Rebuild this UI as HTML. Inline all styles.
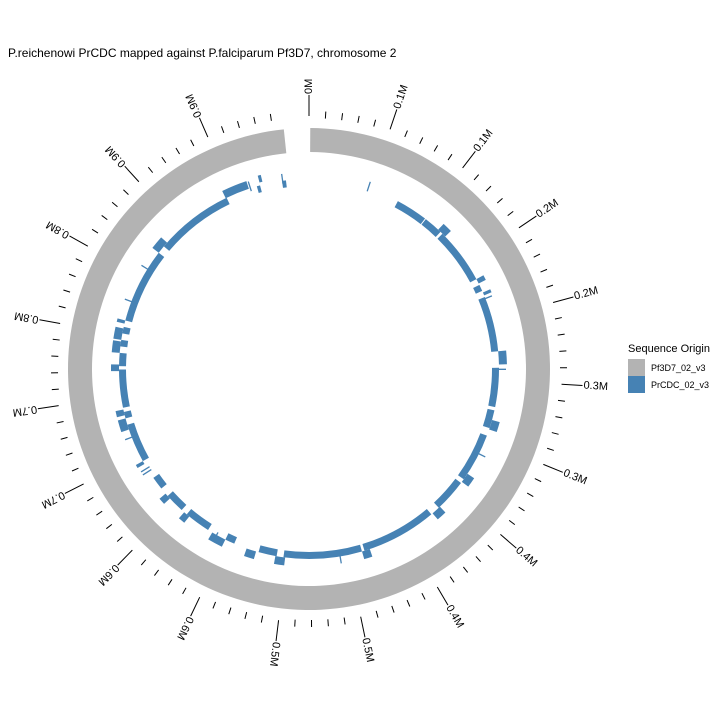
<!DOCTYPE html>
<html><head><meta charset="utf-8"><style>
body{margin:0;background:#fff;width:720px;height:720px;overflow:hidden;font-family:"Liberation Sans",sans-serif}
</style></head><body>
<svg id="chart" width="720" height="720" viewBox="0 0 720 720" xmlns="http://www.w3.org/2000/svg" font-family="Liberation Sans, sans-serif">
<rect width="720" height="720" fill="#fff"/>
<text x="8" y="57" font-size="12" fill="#000">P.reichenowi PrCDC mapped against P.falciparum Pf3D7, chromosome 2</text>
<g id="ring"></g><g id="ticks"></g><g id="segs"></g>
<g>
<text x="628" y="352" font-size="11">Sequence Origin</text>
<rect x="628" y="359" width="17" height="17" fill="#b3b3b3"/>
<text x="651" y="371" font-size="9">Pf3D7_02_v3</text>
<rect x="628" y="376" width="17" height="17" fill="#4682b4"/>
<text x="651" y="388" font-size="9">PrCDC_02_v3</text>
</g>
</svg>
<script>
// data (kb positions)
const genomeLen = 947;
const majorTicks = [0,50,100,150,200,250,300,350,400,450,500,550,600,650,700,750,800,850,900];
const tickLabels = ["0M","0.1M","0.1M","0.2M","0.2M","0.3M","0.3M","0.4M","0.4M","0.5M","0.5M","0.6M","0.6M","0.7M","0.7M","0.8M","0.8M","0.9M","0.9M"];
const segStart = [74.6,101.5,119.3,170.5,181.2,239.8,274.4,295.7,339.4,374.3,438.2,507.8,543.5,567.4,594.1,618.0,644.7,682.0,690.8,724.6,740.6,751.2,761.9,829.8,920.4,941.2,
 114.6,165.2,177.2,226.4,282.4,330.3,365,431.6,500.8,524.8,551.4,586,607.4,642,672.6,684.6,720.6,735.3,745.9,759.2,823.2,893.5,923.3];
const segEnd = [100.7,117.2,165.2,175.8,226.4,271.7,289.3,335.7,366.3,436.1,502.2,522.7,551.4,588.7,610.1,628.7,676.6,687.3,721.9,735.3,745.9,756.6,823.2,894.3,923.1,944.4,
 122.5,169.2,179.8,237.1,290.4,338.3,373,438.2,508.8,532.8,563.4,591.4,612.7,644.7,682,689.4,725.9,744.6,755.2,761.9,833.8,913.7,925.7];
const segLevel = [0,0,0,0,0,0,0,0,0,0,0,0,0,0,0,0,0,0,0,0,0,0,0,0,0,0,
 1,1,1,1,1,1,1,1,1,1,1,1,1,1,1,1,1,1,1,1,1,1,2];
const linePos = [48.5,182.5,241,311.7,334,456.3,559.4,635.3,638,666,777.9,807.2,915,941.7];

const cx=309, cy=369, NS="http://www.w3.org/2000/svg";
const ang = p => p/genomeLen*354; // degrees clockwise from top
const pt = (a,r)=>{const t=a*Math.PI/180;return [cx+r*Math.sin(t), cy-r*Math.cos(t)];};
function arc(a0,a1,r0,r1){
  const [x0,y0]=pt(a0,r1),[x1,y1]=pt(a1,r1),[x2,y2]=pt(a1,r0),[x3,y3]=pt(a0,r0);
  const lg=(a1-a0)>180?1:0;
  return `M${x0},${y0}A${r1},${r1} 0 ${lg} 1 ${x1},${y1}L${x2},${y2}A${r0},${r0} 0 ${lg} 0 ${x3},${y3}Z`;
}
function mk(tag,attrs,parent){const e=document.createElementNS(NS,tag);for(const k in attrs)e.setAttribute(k,attrs[k]);parent.appendChild(e);return e;}

const ring=document.getElementById('ring');
const rp=mk('path',{d:arc(ang(0)+0.3,ang(genomeLen),217,241),fill:'#b3b3b3'},ring);



const tg=document.getElementById('ticks');
for(let k=0;k<genomeLen;k+=10){
  const a=ang(k);const major=k%50===0;
  const [x0,y0]=pt(a,major?253:251),[x1,y1]=pt(a,major?274:258);
  const l=mk('line',{x1:x0,y1:y0,x2:x1,y2:y1,stroke:'#000','stroke-width':1},tg);
  
  
}
majorTicks.forEach((p,i)=>{
  const a=ang(p);
  const [tx,ty]=pt(a,275);
  const t=mk('text',{x:tx,y:ty,'font-size':11,'dominant-baseline':'central',transform:`rotate(${a-90} ${tx} ${ty})`},tg);
  t.textContent=tickLabels[i];
  
  
});

const sg=document.getElementById('segs');
const radii=[[183,190],[190,198],[193,200]];
segStart.forEach((s,i)=>{
  const r=radii[segLevel[i]];
  const p=mk('path',{d:arc(ang(s),ang(segEnd[i]),r[0],r[1]),fill:'#4682b4'},sg);
  
  
});
linePos.forEach(p=>{
  const a=ang(p);const [x0,y0]=pt(a,187),[x1,y1]=pt(a,197);
  const l=mk('line',{x1:x0,y1:y0,x2:x1,y2:y1,stroke:'#4682b4','stroke-width':1.3},sg);
  
  
});
</script>
</body></html>
